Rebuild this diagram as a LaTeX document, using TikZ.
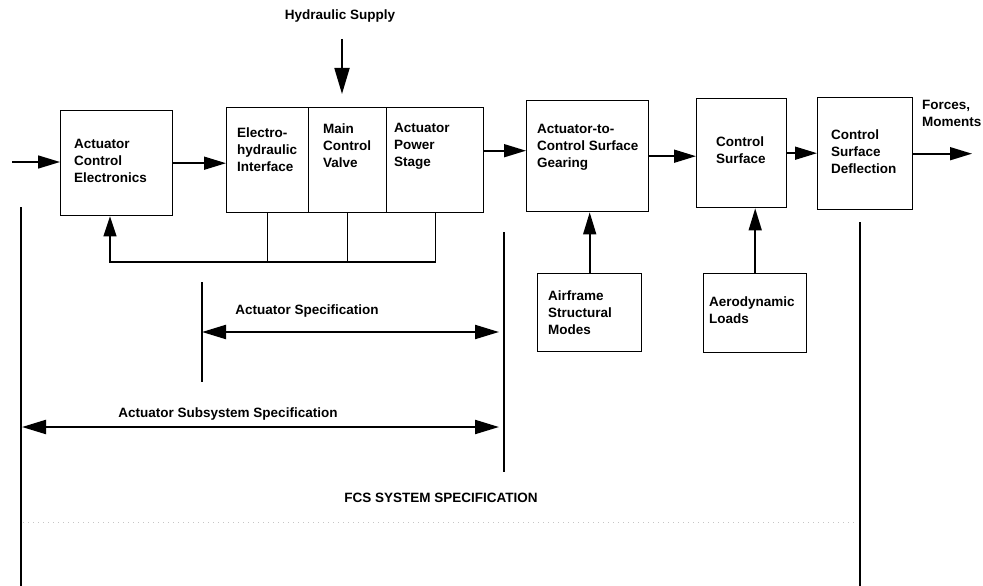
\documentclass[tikz,border=0pt]{standalone}
\usepackage{fontspec}
\setmainfont{Liberation Sans}
\usetikzlibrary{arrows.meta,calc}

\begin{document}
\begin{tikzpicture}[x=1pt,y=-1pt,
  blk/.style={draw, line width=1.4pt, rectangle, anchor=north west, inner sep=0pt},
  lbl/.style={anchor=west, align=left, inner sep=0pt,
              font=\fontsize{13.5}{17}\selectfont\bfseries},
  ttl/.style={inner sep=0pt, font=\fontsize{13.5}{17}\selectfont\bfseries},
  flow/.style={line width=1.6pt, -{Triangle[length=22pt,width=13pt]}},
  feed/.style={line width=1.3pt},
  vline/.style={line width=1.2pt},
  span/.style={line width=2.2pt,
               {Triangle[length=24pt,width=14pt]}-{Triangle[length=24pt,width=14pt]}}
]
\useasboundingbox (0,0) rectangle (983,586);

% ---- blocks ----
\node[blk, minimum width=112pt, minimum height=105pt] (ace)  at (60,110)  {};
\node[blk, minimum width=82pt,  minimum height=105pt] (ehi)  at (226,107) {};
\node[blk, minimum width=78pt,  minimum height=105pt] (mcv)  at (308,107) {};
\node[blk, minimum width=97pt,  minimum height=105pt] (aps)  at (386,107) {};
\node[blk, minimum width=122pt, minimum height=111pt] (gear) at (526,100) {};
\node[blk, minimum width=90pt,  minimum height=109pt] (cs)   at (696,98)  {};
\node[blk, minimum width=95pt,  minimum height=112pt] (csd)  at (817,97)  {};
\node[blk, minimum width=104pt, minimum height=78pt]  (air)  at (537,273) {};
\node[blk, minimum width=103pt, minimum height=79pt]  (aero) at (703,273) {};

% ---- block texts ----
\node[lbl] (aceT)  at (74,161)    {Actuator\\Control\\Electronics};
\node[lbl] (ehiT)  at (237,150)   {Electro-\\hydraulic\\Interface};
\node[lbl] (mcvT)  at (323,146)   {Main\\Control\\Valve};
\node[lbl] (apsT)  at (394,146)   {Actuator\\Power\\Stage};
\node[lbl] (gearT) at (537,147)   {Actuator-to-\\Control Surface\\Gearing};
\node[lbl] (csT)   at (716,150.5) {Control\\Surface};
\node[lbl] (csdT)  at (831,152)   {Control\\Surface\\Deflection};
\node[lbl] (airT)  at (548,313)   {Airframe\\Structural\\Modes};
\node[lbl] (aeroT) at (709,310.5) {Aerodynamic\\Loads};
\node[lbl] (outT)  at (922,113)   {Forces,\\Moments};
\node[ttl] (hydT)  at (340,16)    {Hydraulic Supply};

% ---- signal flow ----
\coordinate (inp)  at (12,162);
\coordinate (outp) at (972,153);
\coordinate (hyd)  at (342,39);
\coordinate (fbc)  at (110,262);

\draw[flow] (inp) -- (inp -| ace.west);
\draw[flow] (ace.east) -- (ace.east -| ehi.west);
\draw[flow] ([yshift=9.5pt]aps.east) -- ([yshift=9.5pt]aps.east -| gear.west);
\draw[flow] (gear.east) -- (gear.east -| cs.west);
\draw[flow] (cs.east) -- (cs.east -| csd.west);
\draw[flow] (csd.east) -- (csd.east -| outp);
\draw[line width=1.8pt, -{Triangle[length=26pt,width=15pt]}, shorten >=13pt]
  (hyd) -- (hyd |- mcv.north);
\draw[flow] (air.north) -- (air.north |- gear.south);
\draw[flow] (aero.north) -- (aero.north |- cs.south);

% ---- feedback loop ----
\draw[feed] (ehi.south) -- (ehi.south |- fbc);
\draw[feed] (mcv.south) -- (mcv.south |- fbc);
\draw[feed, -{Triangle[length=20pt,width=13pt]}]
  (aps.south) |- (fbc) -- (fbc |- ace.south);

% ---- specification limits ----
\coordinate (l1t) at (21,207);  \coordinate (l1b) at (21,586);
\coordinate (l2t) at (202,282); \coordinate (l2b) at (202,382);
\coordinate (l3t) at (504,232); \coordinate (l3b) at (504,472);
\coordinate (l4t) at (860,222); \coordinate (l4b) at (860,586);
\draw[vline] (l1t) -- (l1b);
\draw[vline] (l2t) -- (l2b);
\draw[vline] (l3t) -- (l3b);
\draw[vline] (l4t) -- (l4b);

\coordinate (asL) at (202,332); \coordinate (asR) at (499,332);
\coordinate (ssL) at (22,427);  \coordinate (ssR) at (499,427);
\draw[span] (asL) -- (asR);
\draw[span] (ssL) -- (ssR);
\node[ttl] (asT) at (307,311) {Actuator Specification};
\node[ttl] (ssT) at (228,414) {Actuator Subsystem Specification};

% FCS span, printed very faintly
\coordinate (fcL) at (23,522); \coordinate (fcR) at (856,522);
\draw[gray!45, line width=0.7pt, dash pattern=on 1pt off 4pt] (fcL) -- (fcR);
\node[ttl] (fcT) at (441,498) {FCS SYSTEM SPECIFICATION};
\end{tikzpicture}
\end{document}
